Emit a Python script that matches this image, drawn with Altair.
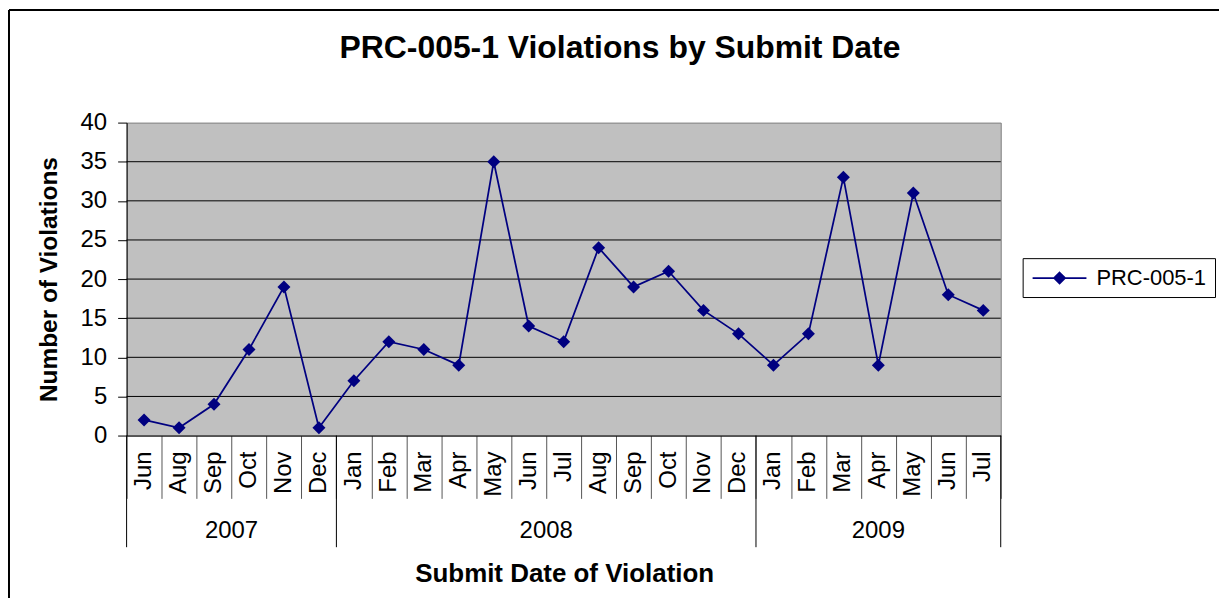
import altair as alt
import pandas as pd

# ---- data ----
months = ["Jun", "Aug", "Sep", "Oct", "Nov", "Dec",
          "Jan", "Feb", "Mar", "Apr", "May", "Jun", "Jul", "Aug", "Sep", "Oct", "Nov", "Dec",
          "Jan", "Feb", "Mar", "Apr", "May", "Jun", "Jul"]
years = ["2007"] * 6 + ["2008"] * 12 + ["2009"] * 7
violations = [2, 1, 4, 11, 19, 1,
              7, 12, 11, 9, 35, 14, 12, 24, 19, 21, 16, 13,
              9, 13, 33, 9, 31, 18, 16]
year_labels = ["2007", "2008", "2009"]
y_ticks = [0, 5, 10, 15, 20, 25, 30, 35, 40]
series_name = "PRC-005-1"
title_text = "PRC-005-1 Violations by Submit Date"
x_title = "Submit Date of Violation"
y_title = "Number of Violations"

NAVY = "#000080"
FONT = "Liberation Sans"
n = len(months)

df = pd.DataFrame({
    "month": months,
    "year": years,
    "value": violations,
    "pos": [i + 0.5 for i in range(n)],
    "series": [series_name] * n,
})

# year groups
starts, ends = [], []
idx = 0
for y in year_labels:
    c = years.count(y)
    starts.append(idx)
    ends.append(idx + c)
    idx += c
year_df = pd.DataFrame({
    "year": year_labels,
    "center": [(s + e) / 2 for s, e in zip(starts, ends)],
})
year_bounds = pd.DataFrame({"b": sorted(set(starts + ends))})
grid_df = pd.DataFrame({"g": [t for t in y_ticks if 0 < t < max(y_ticks)]})

xscale = alt.Scale(domain=[0, n], nice=False, zero=False, padding=0)
yscale = alt.Scale(domain=[0, 40], nice=False)

x_axis = alt.Axis(values=list(range(n + 1)), tickSize=63, tickColor="#555555",
                  tickWidth=1, labels=False, grid=False, domainColor="black",
                  title=x_title, titleFont=FONT, titleFontSize=26, titleFontWeight="bold",
                  titleColor="black", titleX=439, titleY=146, titleBaseline="alphabetic",
                  titleAlign="center", titleAnchor="middle")
y_axis = alt.Axis(values=y_ticks, grid=False, tickSize=9, tickColor="black",
                  domainColor="black", labelFont=FONT, labelFontSize=24,
                  labelColor="black", labelPadding=11, labelOverlap=False,
                  labelFlush=False, labelBound=False,
                  title=y_title, titleFont=FONT, titleFontSize=24.5, titleFontWeight="bold",
                  titleColor="black", titleX=-70, titleY=157, titleAngle=270,
                  titleBaseline="alphabetic", titleAlign="center", titleAnchor="middle")

legend_path = "M-0.91,0H4M1.55,-0.5L2.05,0L1.55,0.5L1.05,0Z"

line = alt.Chart(df).mark_line(strokeWidth=1.75).encode(
    x=alt.X("pos:Q", scale=xscale, axis=x_axis),
    y=alt.Y("value:Q", scale=yscale, axis=y_axis),
    color=alt.Color("series:N", scale=alt.Scale(range=[NAVY]),
                    legend=alt.Legend(title=None, orient="none", legendX=899, legendY=136,
                                      padding=8, strokeColor="black", fillColor="white",
                                      labelFont=FONT, labelFontSize=22, labelColor="black",
                                      labelOffset=42, symbolType=legend_path, symbolSize=484,
                                      symbolStrokeColor=NAVY, symbolFillColor=NAVY,
                                      symbolStrokeWidth=1.75)),
)

points = alt.Chart(df).mark_point(shape="diamond", filled=True, size=170, opacity=1,
                                  color=NAVY).encode(
    x=alt.X("pos:Q", scale=xscale, axis=x_axis),
    y=alt.Y("value:Q", scale=yscale, axis=y_axis),
)

grid = alt.Chart(grid_df).mark_rule(color="black", strokeWidth=1).encode(
    y=alt.Y("g:Q", scale=yscale, axis=y_axis),
)

year_sep = alt.Chart(year_bounds).mark_rule(color="black", strokeWidth=1).encode(
    x=alt.X("b:Q", scale=xscale, axis=x_axis),
    y=alt.value(314), y2=alt.value(426),
)

month_text = alt.Chart(df).mark_text(angle=270, align="right", baseline="middle",
                                     font=FONT, fontSize=24, color="black").encode(
    x=alt.X("pos:Q", scale=xscale, axis=x_axis),
    y=alt.value(330),
    text="month:N",
)

year_text = alt.Chart(year_df).mark_text(align="center", baseline="alphabetic",
                                         font=FONT, fontSize=24, color="black").encode(
    x=alt.X("center:Q", scale=xscale, axis=x_axis),
    y=alt.value(417),
    text="year:N",
)

title_df = pd.DataFrame({"t": [title_text]})
title = alt.Chart(title_df).mark_text(align="center", baseline="alphabetic", font=FONT,
                                      fontSize=32, fontWeight="bold", color="black").encode(
    x=alt.value(495), y=alt.value(-65), text="t:N",
)

frame_df = pd.DataFrame({"f": [1]})
frame_top = alt.Chart(frame_df).mark_rule(color="black", strokeWidth=2).encode(
    x=alt.value(-118), x2=alt.value(1300), y=alt.value(-113),
)
frame_left = alt.Chart(frame_df).mark_rule(color="black", strokeWidth=2).encode(
    x=alt.value(-118), y=alt.value(-113), y2=alt.value(700),
)

chart = alt.layer(
    grid, line, points, year_sep, month_text, year_text, title, frame_top, frame_left
).properties(
    width=877, height=314,
    autosize=alt.AutoSizeParams(type="none"),
    padding={"left": 119, "top": 114, "right": 219, "bottom": 162},
    background="white",
).configure_view(
    fill="#C0C0C0", stroke="#808080", strokeWidth=1,
).configure_axis(
    labelOverlap=False,
)

chart.save("out.html", embed_options={"renderer": "svg", "actions": False})
